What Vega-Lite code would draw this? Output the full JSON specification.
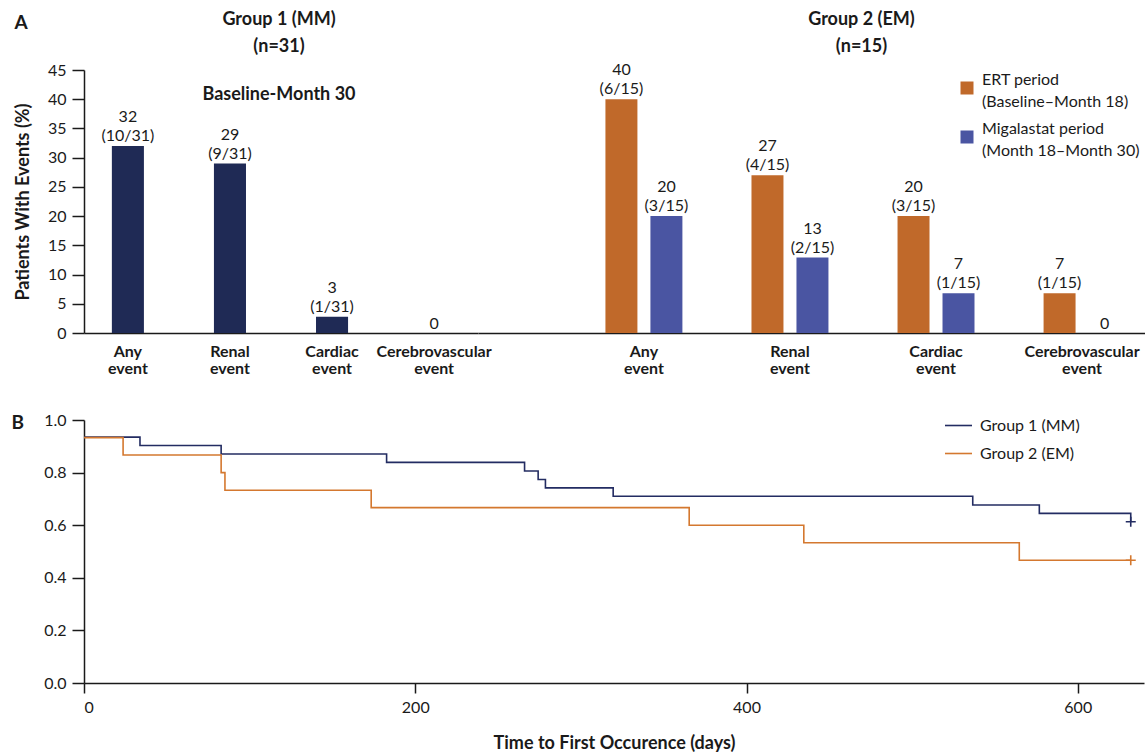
{
  "$schema": "https://vega.github.io/schema/vega-lite/v6.json",
  "background": "white",
  "padding": {"left": 11, "top": 10, "right": 0, "bottom": 0},
  "config": {
    "font": "Lato",
    "view": {"stroke": null},
    "axis": {"domainColor": "#1a1a1a", "tickColor": "#1a1a1a", "labelColor": "#1a1a1a", "titleColor": "#1a1a1a", "grid": false, "domainWidth": 1.5, "tickWidth": 1.5},
    "title": {"color": "#1a1a1a"},
    "legend": {"labelColor": "#1a1a1a"},
    "style": {"guide-label": {"lineHeight": 22}}
  },
  "resolve": {"scale": {"color": "independent"}},
  "spacing": 35,
  "vconcat": [
    {
      "title": {"text": "A", "anchor": "start", "frame": "bounds", "fontSize": 19, "fontWeight": "bold", "offset": -22},
      "bounds": "flush",
      "spacing": 0,
      "resolve": {"scale": {"color": "independent"}},
      "hconcat": [
        {
          "width": 394,
          "height": 263,
          "title": {"text": ["Group 1 (MM)", "(n=31)"], "fontSize": 18, "fontWeight": "bold", "lineHeight": 27, "offset": 6.5, "dx": -2},
          "data": {"values": [
            {"event": "Any event", "pct": 32, "label": "32\n(10/31)"},
            {"event": "Renal event", "pct": 29, "label": "29\n(9/31)"},
            {"event": "Cardiac event", "pct": 2.8, "label": "3\n(1/31)"},
            {"event": "Cerebrovascular event", "pct": 0, "label": "0"}
          ]},
          "encoding": {
            "x": {"field": "event", "type": "nominal", "sort": null,
              "scale": {"domain": ["Any event", "Renal event", "Cardiac event", "Cerebrovascular event"], "paddingInner": 0.686, "paddingOuter": 0.273},
              "axis": {"title": null, "labelAngle": 0, "ticks": false, "labelFontWeight": "bold", "labelFontSize": 16, "labelPadding": 10, "labelLineHeight": 17, "labelExpr": "split(datum.label, ' ')", "labelLimit": 0, "labelOverlap": false, "labelBound": false}},
            "y": {"field": "pct", "type": "quantitative",
              "scale": {"domain": [0, 45], "nice": false},
              "axis": {"title": "Patients With Events (%)", "values": [0, 5, 10, 15, 20, 25, 30, 35, 40, 45], "tickCount": 10, "labelOverlap": false, "tickSize": 12, "labelFontSize": 16, "labelPadding": 6, "titleFontSize": 18, "titleFontWeight": "bold", "titlePadding": 15}}
          },
          "layer": [
            {"mark": {"type": "bar", "color": "#1F2A55"}},
            {
              "transform": [{"filter": "datum.pct > 0"}],
              "mark": {"type": "text", "baseline": "bottom", "dy": -21, "lineBreak": "\n", "fontSize": 16, "lineHeight": 19, "color": "#1a1a1a"},
              "encoding": {"text": {"field": "label"}}
            },
            {
              "transform": [{"filter": "datum.pct == 0"}],
              "mark": {"type": "text", "baseline": "bottom", "dy": -1, "fontSize": 16, "color": "#1a1a1a"},
              "encoding": {"text": {"field": "label"}}
            },
            {
              "data": {"values": [{"event": "Renal event", "pct": 40.7, "note": "Baseline-Month 30"}]},
              "mark": {"type": "text", "fontSize": 18, "fontWeight": "bold", "dx": 49, "baseline": "middle", "color": "#1a1a1a"},
              "encoding": {"text": {"field": "note"}}
            }
          ]
        },
        {
          "width": 667,
          "height": 263,
          "title": {"text": ["Group 2 (EM)", "(n=15)"], "fontSize": 18, "fontWeight": "bold", "lineHeight": 27, "offset": 6.5, "dx": 50},
          "data": {"values": [
            {"event": "Any event", "period": "ERT period", "pct": 40, "label": "40\n(6/15)"},
            {"event": "Any event", "period": "Migalastat period", "pct": 20, "label": "20\n(3/15)"},
            {"event": "Renal event", "period": "ERT period", "pct": 27, "label": "27\n(4/15)"},
            {"event": "Renal event", "period": "Migalastat period", "pct": 12.9, "label": "13\n(2/15)"},
            {"event": "Cardiac event", "period": "ERT period", "pct": 20, "label": "20\n(3/15)"},
            {"event": "Cardiac event", "period": "Migalastat period", "pct": 6.8, "label": "7\n(1/15)"},
            {"event": "Cerebrovascular event", "period": "ERT period", "pct": 6.8, "label": "7\n(1/15)"},
            {"event": "Cerebrovascular event", "period": "Migalastat period", "pct": 0, "label": "0"}
          ]},
          "encoding": {
            "x": {"field": "event", "type": "nominal", "sort": null,
              "scale": {"domain": ["Any event", "Renal event", "Cardiac event", "Cerebrovascular event"], "paddingInner": 0.473, "paddingOuter": 0.52, "align": 0.839},
              "axis": {"title": null, "labelAngle": 0, "ticks": false, "labelFontWeight": "bold", "labelFontSize": 16, "labelPadding": 10, "labelLineHeight": 17, "labelExpr": "split(datum.label, ' ')", "labelLimit": 0, "labelOverlap": false, "labelBound": false}},
            "xOffset": {"field": "period", "type": "nominal", "scale": {"domain": ["ERT period", "Migalastat period"], "paddingInner": 0.289, "paddingOuter": 0}},
            "y": {"field": "pct", "type": "quantitative", "scale": {"domain": [0, 45], "nice": false}, "axis": null}
          },
          "layer": [
            {
              "mark": {"type": "bar"},
              "encoding": {
                "color": {"field": "period", "type": "nominal",
                  "scale": {"domain": ["ERT period", "Migalastat period"], "range": ["#C0692A", "#4A55A2"]},
                  "legend": {"title": null, "orient": "none", "legendX": 481, "legendY": 10, "padding": 0, "symbolType": "square", "symbolSize": 169, "symbolStrokeWidth": 0, "labelFontSize": 16, "labelOffset": 7, "rowPadding": 11, "labelLimit": 0, "labelBaseline": "bottom",
                    "labelExpr": "datum.label == 'ERT period' ? ['ERT period', '(Baseline\u2013Month 18)'] : ['Migalastat period', '(Month 18\u2013Month 30)']"}}
              }
            },
            {
              "transform": [{"filter": "datum.pct > 0"}],
              "mark": {"type": "text", "baseline": "bottom", "dy": -21, "lineBreak": "\n", "fontSize": 16, "lineHeight": 19, "color": "#1a1a1a"},
              "encoding": {"text": {"field": "label"}}
            },
            {
              "transform": [{"filter": "datum.pct == 0"}],
              "mark": {"type": "text", "baseline": "bottom", "dy": -1, "fontSize": 16, "color": "#1a1a1a"},
              "encoding": {"text": {"field": "label"}}
            }
          ]
        }
      ]
    },
    {
      "width": 1060,
      "height": 263,
      "data": {"values": [
        {"group": "Group 1 (MM)", "day": 0, "surv": 0.935, "censored": false},
        {"group": "Group 1 (MM)", "day": 33.8, "surv": 0.903, "censored": false},
        {"group": "Group 1 (MM)", "day": 82.8, "surv": 0.871, "censored": false},
        {"group": "Group 1 (MM)", "day": 182.7, "surv": 0.839, "censored": false},
        {"group": "Group 1 (MM)", "day": 266, "surv": 0.806, "censored": false},
        {"group": "Group 1 (MM)", "day": 274.2, "surv": 0.774, "censored": false},
        {"group": "Group 1 (MM)", "day": 278.6, "surv": 0.742, "censored": false},
        {"group": "Group 1 (MM)", "day": 319.5, "surv": 0.71, "censored": false},
        {"group": "Group 1 (MM)", "day": 536.6, "surv": 0.677, "censored": false},
        {"group": "Group 1 (MM)", "day": 576.8, "surv": 0.645, "censored": false},
        {"group": "Group 1 (MM)", "day": 632, "surv": 0.613, "censored": true},
        {"group": "Group 2 (EM)", "day": 0, "surv": 0.933, "censored": false},
        {"group": "Group 2 (EM)", "day": 23.6, "surv": 0.867, "censored": false},
        {"group": "Group 2 (EM)", "day": 82.8, "surv": 0.8, "censored": false},
        {"group": "Group 2 (EM)", "day": 85.1, "surv": 0.733, "censored": false},
        {"group": "Group 2 (EM)", "day": 173.4, "surv": 0.667, "censored": false},
        {"group": "Group 2 (EM)", "day": 365.4, "surv": 0.6, "censored": false},
        {"group": "Group 2 (EM)", "day": 434.6, "surv": 0.533, "censored": false},
        {"group": "Group 2 (EM)", "day": 564.7, "surv": 0.467, "censored": false},
        {"group": "Group 2 (EM)", "day": 632, "surv": 0.467, "censored": true}
      ]},
      "encoding": {
        "x": {"field": "day", "type": "quantitative", "scale": {"domain": [0, 640], "nice": false},
          "axis": {"values": [0, 200, 400, 600], "tickSize": 10, "labelFontSize": 16, "labelPadding": 6, "title": "Time to First Occurence (days)", "titleFontSize": 18, "titleFontWeight": "bold", "titlePadding": 19}},
        "y": {"field": "surv", "type": "quantitative", "scale": {"domain": [0, 1], "nice": false},
          "axis": {"values": [0, 0.2, 0.4, 0.6, 0.8, 1.0], "format": ".1f", "labelOverlap": false, "tickSize": 12, "labelFontSize": 16, "labelPadding": 6, "title": "B", "titleAngle": 0, "titleFontSize": 19, "titleFontWeight": "bold", "titleAlign": "left", "titleBaseline": "middle", "titleX": -73, "titleY": 2}},
        "color": {"field": "group", "type": "nominal",
          "scale": {"domain": ["Group 1 (MM)", "Group 2 (EM)"], "range": ["#232C62", "#D4782F"]},
          "legend": {"title": null, "orient": "none", "legendX": 860, "legendY": -9, "padding": 0, "symbolType": "stroke", "symbolSize": 729, "symbolStrokeWidth": 1.6, "labelFontSize": 16, "labelOffset": 7, "rowPadding": 5, "labelLimit": 0}}
      },
      "layer": [
        {"mark": {"type": "line", "interpolate": "step-after", "strokeWidth": 1.6}},
        {"transform": [{"filter": "datum.censored"}], "mark": {"type": "point", "shape": "M-1,0H1M0,-1V1", "size": 100, "strokeWidth": 1.6, "opacity": 1}}
      ]
    }
  ]
}
